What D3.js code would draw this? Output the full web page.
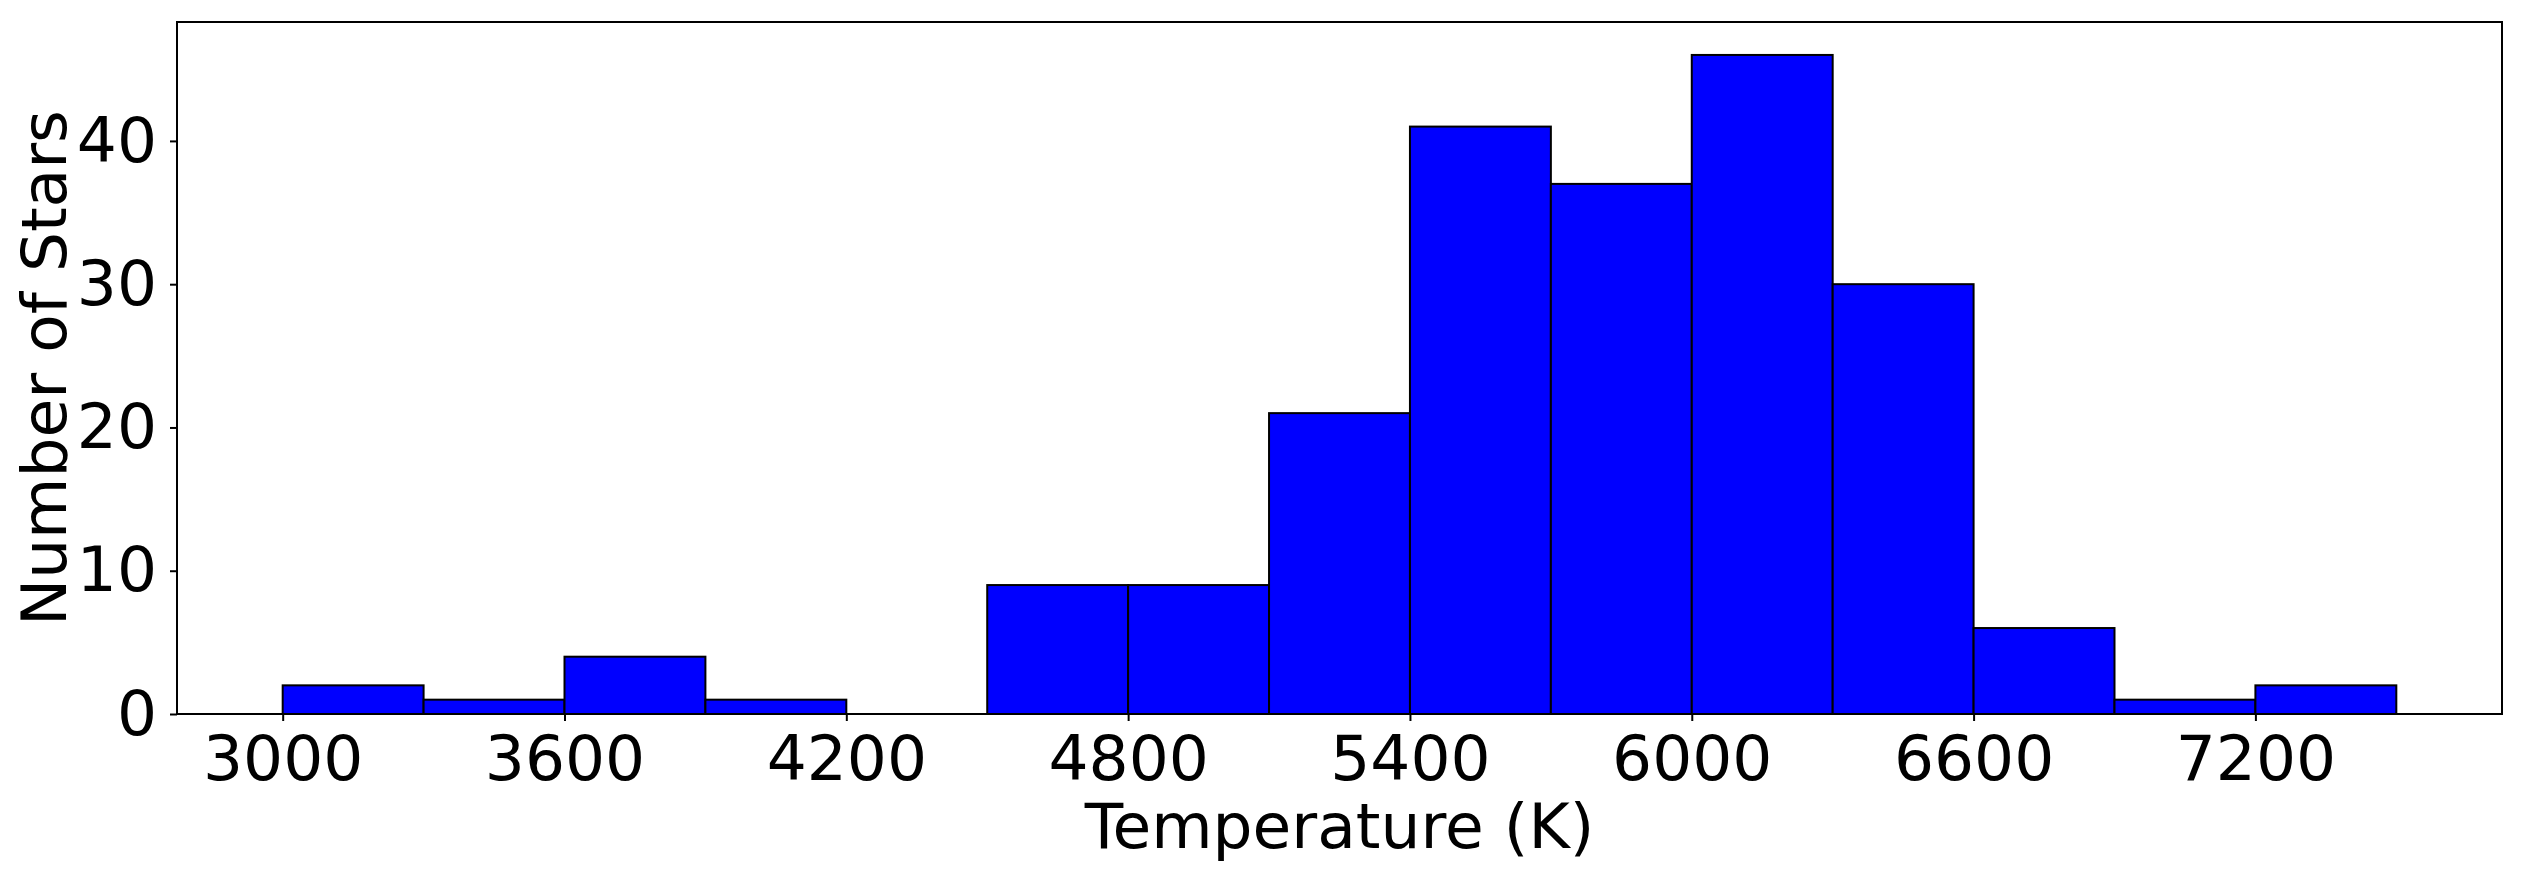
<!DOCTYPE html>
<html>
<head>
<meta charset="utf-8">
<script src="https://cdn.jsdelivr.net/npm/d3@7"></script>
<style>
  body { margin: 0; background: #fff; }
  text { font-family: "DejaVu Sans", sans-serif; fill: #000; }
</style>
</head>
<body>
<div id="chart"></div>
<script>
// histogram bins: left edges (K), bin width 300
const binStarts = [3000, 3300, 3600, 3900, 4200, 4500, 4800, 5100, 5400, 5700, 6000, 6300, 6600, 6900, 7200];
const counts = [2, 1, 4, 1, 0, 9, 9, 21, 41, 37, 46, 30, 6, 1, 2];
const binWidth = 300;
const xTicks = [3000, 3600, 4200, 4800, 5400, 6000, 6600, 7200];
const yTicks = [0, 10, 20, 30, 40];

const width = 2526;
const height = 875;
const margin = { top: 22, right: 24, bottom: 161, left: 177 };
const chartWidth = width - margin.left - margin.right;
const chartHeight = height - margin.top - margin.bottom;
const fontSize = 63;

const svg = d3.select("#chart")
  .append("svg")
  .attr("width", width)
  .attr("height", height);

const g = svg.append("g")
  .attr("transform", `translate(${margin.left},${margin.top})`);

const xMin = binStarts[0];
const xMax = binStarts[binStarts.length - 1] + binWidth;
const pad = (xMax - xMin) * 0.05;

const x = d3.scaleLinear()
  .domain([xMin - pad, xMax + pad])
  .range([0, chartWidth]);

const y = d3.scaleLinear()
  .domain([0, d3.max(counts) * 1.05])
  .range([chartHeight, 0]);

const bins = binStarts.map((s, i) => ({ x0: s, x1: s + binWidth, n: counts[i] }));

g.selectAll("rect.bar")
  .data(bins.filter(d => d.n > 0))
  .join("rect")
  .attr("class", "bar")
  .attr("x", d => x(d.x0))
  .attr("y", d => y(d.n))
  .attr("width", d => x(d.x1) - x(d.x0))
  .attr("height", d => y(0) - y(d.n))
  .attr("fill", "#0000ff")
  .attr("stroke", "#000")
  .attr("stroke-width", 2);

const xAxis = g.append("g")
  .attr("transform", `translate(0,${chartHeight})`)
  .call(d3.axisBottom(x).tickValues(xTicks).tickSize(7).tickPadding(14).tickFormat(d3.format("d")));

const yAxis = g.append("g")
  .call(d3.axisLeft(y).tickValues(yTicks).tickSize(7).tickPadding(13).tickFormat(d3.format("d")));

[xAxis, yAxis].forEach(a => {
  a.select(".domain").remove();
  a.selectAll("line").attr("stroke", "#000").attr("stroke-width", 2);
  a.selectAll("text")
    .attr("font-family", "DejaVu Sans, sans-serif")
    .attr("font-size", fontSize)
    .attr("fill", "#000");
});

// frame
g.append("rect")
  .attr("x", 0)
  .attr("y", 0)
  .attr("width", chartWidth)
  .attr("height", chartHeight)
  .attr("fill", "none")
  .attr("stroke", "#000")
  .attr("stroke-width", 2);

g.append("text")
  .attr("x", chartWidth / 2)
  .attr("y", 848 - margin.top)
  .attr("text-anchor", "middle")
  .attr("font-size", fontSize)
  .text("Temperature (K)");

g.append("text")
  .attr("transform", "rotate(-90)")
  .attr("x", -chartHeight / 2)
  .attr("y", 66 - margin.left)
  .attr("text-anchor", "middle")
  .attr("font-size", fontSize)
  .text("Number of Stars");
</script>
</body>
</html>
